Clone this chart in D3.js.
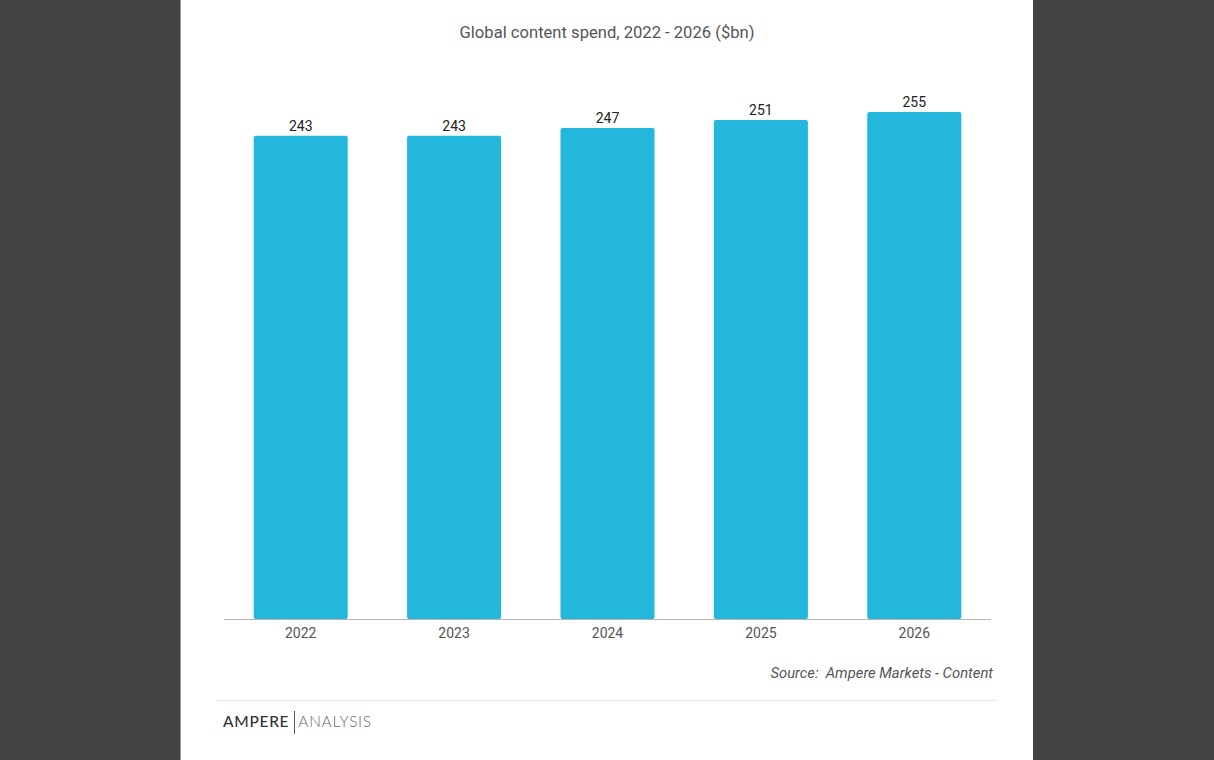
<!DOCTYPE html>
<html>
<head>
<meta charset="utf-8">
<script src="https://cdn.jsdelivr.net/npm/d3@7"></script>
<style>
  body { margin:0; background:#434343; }
  svg { display:block; font-family: Roboto, "Open Sans", sans-serif; }
</style>
</head>
<body>
<div id="chart"></div>
<script>
// chart data
var years = ["2022","2023","2024","2025","2026"];
var spend = [243, 243, 247, 251, 255];

var W = 1214, H = 760;

var svg = d3.select("#chart").append("svg")
    .attr("width", W).attr("height", H);

// white card
svg.append("rect")
    .attr("x", 180).attr("y", 0)
    .attr("width", 853).attr("height", H)
    .attr("fill", "#fff");
svg.append("line")
    .attr("x1", 180.5).attr("x2", 180.5).attr("y1", 0).attr("y2", H)
    .attr("stroke", "#9a9a9a").attr("stroke-width", 1);

var x = d3.scaleBand()
    .domain(years)
    .range([224, 991])
    .paddingInner(0.387)
    .paddingOuter(0.1935);

var y = d3.scaleLinear()
    .domain([0, 255])
    .range([619, 112]);

// title
svg.append("text")
    .attr("x", 607).attr("y", 38)
    .attr("text-anchor", "middle")
    .attr("font-size", 16.6)
    .attr("fill", "#555")
    .text("Global content spend, 2022 - 2026 ($bn)");

// bars
svg.selectAll(".bar").data(spend).enter().append("rect")
    .attr("class", "bar")
    .attr("x", function(d, i) { return x(years[i]); })
    .attr("y", function(d) { return y(d); })
    .attr("width", x.bandwidth())
    .attr("height", function(d) { return y(0) - y(d); })
    .attr("rx", 2)
    .attr("fill", "#23b8db");

// value labels
svg.selectAll(".lbl").data(spend).enter().append("text")
    .attr("class", "lbl")
    .attr("x", function(d, i) { return x(years[i]) + x.bandwidth() / 2; })
    .attr("y", function(d) { return y(d) - 5; })
    .attr("text-anchor", "middle")
    .attr("font-size", 14)
    .attr("fill", "#222")
    .text(function(d) { return d; });

// x axis
var xAxis = svg.append("g")
    .attr("transform", "translate(0," + 619 + ")")
    .call(d3.axisBottom(x).tickSize(0).tickPadding(0));
xAxis.select(".domain").attr("stroke", "#b5b5b5").attr("d", "M224,0.5H991");
xAxis.selectAll("text")
    .attr("y", 19).attr("dy", 0)
    .attr("font-family", "Roboto, sans-serif")
    .attr("font-size", 14)
    .attr("fill", "#555");

// source
svg.append("text")
    .attr("x", 993).attr("y", 678)
    .attr("text-anchor", "end")
    .attr("font-size", 14.8)
    .attr("font-style", "italic")
    .attr("fill", "#555")
    .attr("xml:space", "preserve")
    .text("Source:  Ampere Markets - Content");

// footer separator
svg.append("line")
    .attr("x1", 216).attr("x2", 997).attr("y1", 700.5).attr("y2", 700.5)
    .attr("stroke", "#ececec").attr("stroke-width", 1.5);

// logo
var logo = svg.append("text")
    .attr("x", 223).attr("y", 727)
    .attr("font-family", "Lato, 'Open Sans', sans-serif")
    .attr("font-size", 15.5)
    .attr("letter-spacing", 0.7);
logo.append("tspan").attr("fill", "#333").attr("font-weight", 500).text("AMPERE");
logo.append("tspan").attr("fill", "#666").attr("font-weight", 300).attr("dx", 9).text("ANALYSIS");
svg.append("line")
    .attr("x1", 294.5).attr("x2", 294.5).attr("y1", 711).attr("y2", 734)
    .attr("stroke", "#555").attr("stroke-width", 1);
</script>
</body>
</html>
